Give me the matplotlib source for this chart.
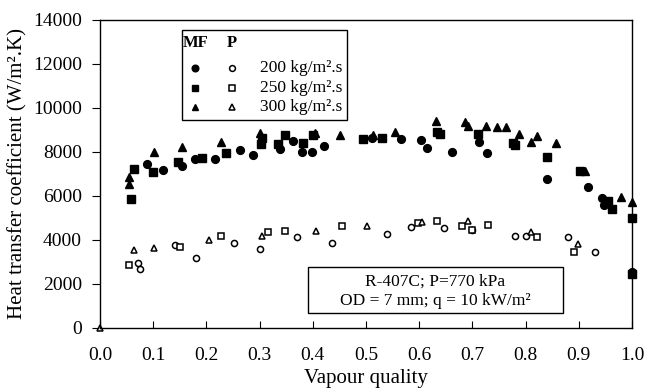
import matplotlib
matplotlib.use("Agg")
import matplotlib.pyplot as plt
from matplotlib.patches import Rectangle
from matplotlib.lines import Line2D

plt.rcParams['font.family'] = ['Liberation Serif', 'DejaVu Serif']
plt.rcParams['mathtext.fontset'] = 'stix'

# MF 200 kg/m2.s (filled circles)
mf200_x = [0.088, 0.118, 0.155, 0.179, 0.216, 0.263, 0.288, 0.338, 0.362, 0.379, 0.398, 0.421,
           0.511, 0.566, 0.604, 0.615, 0.662, 0.712, 0.728, 0.841, 0.917, 0.943, 0.948, 1.0]
mf200_y = [7430, 7180, 7350, 7650, 7690, 8080, 7850, 8120, 8500, 8000, 8000, 8260,
           8610, 8560, 8530, 8180, 7970, 8430, 7930, 6750, 6420, 5880, 5600, 2550]
# MF 250 kg/m2.s (filled squares)
mf250_x = [0.058, 0.064, 0.100, 0.147, 0.191, 0.236, 0.302, 0.304, 0.335, 0.348, 0.381, 0.401,
           0.494, 0.531, 0.634, 0.640, 0.711, 0.776, 0.780, 0.840, 0.902, 0.955, 0.962, 1.0, 1.0]
mf250_y = [5870, 7200, 7060, 7550, 7700, 7930, 8350, 8610, 8350, 8760, 8380, 8760,
           8560, 8610, 8910, 8800, 8800, 8380, 8300, 7770, 7140, 5750, 5400, 4980, 2450]
# MF 300 kg/m2.s (filled triangles)
mf300_x = [0.055, 0.055, 0.102, 0.155, 0.227, 0.301, 0.404, 0.452, 0.513, 0.555, 0.631, 0.687,
           0.691, 0.725, 0.747, 0.764, 0.788, 0.811, 0.822, 0.858, 0.912, 0.980, 1.0]
mf300_y = [6520, 6870, 7990, 8200, 8440, 8830, 8830, 8760, 8760, 8910, 9390, 9360,
           9180, 9180, 9130, 9130, 8800, 8430, 8720, 8380, 7140, 5950, 5710]
# P 200 kg/m2.s (open circles)
p200_x = [0.072, 0.076, 0.141, 0.180, 0.252, 0.300, 0.370, 0.437, 0.539, 0.585, 0.647, 0.700,
          0.780, 0.801, 0.880, 0.930]
p200_y = [2930, 2660, 3770, 3160, 3840, 3570, 4110, 3840, 4250, 4570, 4520, 4450,
          4170, 4170, 4110, 3430]
# P 250 kg/m2.s (open squares)
p250_x = [0.055, 0.150, 0.227, 0.316, 0.348, 0.454, 0.598, 0.633, 0.680, 0.700, 0.730, 0.821, 0.891]
p250_y = [2860, 3690, 4170, 4370, 4410, 4640, 4750, 4850, 4630, 4450, 4670, 4140, 3460]
# P 300 kg/m2.s (open triangles)
p300_x = [0.0, 0.064, 0.102, 0.204, 0.304, 0.406, 0.501, 0.605, 0.692, 0.810, 0.898]
p300_y = [0, 3560, 3650, 4000, 4170, 4410, 4640, 4820, 4850, 4370, 3830]

x_ticks = [0.0, 0.1, 0.2, 0.3, 0.4, 0.5, 0.6, 0.7, 0.8, 0.9, 1.0]
y_ticks = [0, 2000, 4000, 6000, 8000, 10000, 12000, 14000]

fig = plt.figure(figsize=(6.46, 3.9), dpi=100)
ax = fig.add_axes([100/646, 62/390, 532/646, 308.5/390])

fs = 5.6
ax.plot(mf200_x, mf200_y, 'o', ms=fs, color='black', clip_on=False)
ax.plot(mf250_x, mf250_y, 's', ms=fs - 0.3, color='black', clip_on=False)
ax.plot(mf300_x, mf300_y, '^', ms=fs + 0.6, color='black', clip_on=False)
os_ = 4.4
ax.plot(p200_x, p200_y, 'o', ms=os_, mfc='white', mec='black', mew=1.1, clip_on=False)
ax.plot(p250_x, p250_y, 's', ms=os_ - 0.4, mfc='white', mec='black', mew=1.1, clip_on=False)
ax.plot(p300_x, p300_y, '^', ms=os_ + 0.4, mfc='white', mec='black', mew=1.1, clip_on=False)

ax.set_xlim(0, 1.0)
ax.set_ylim(0, 14000)
ax.set_xticks(x_ticks)
ax.set_xticklabels([f"{t:.1f}" for t in x_ticks])
ax.set_yticks(y_ticks)
ax.set_yticklabels([str(t) for t in y_ticks])
ax.tick_params(axis='x', direction='in', length=5, pad=14, labelsize=14)
ax.tick_params(axis='y', direction='out', length=6, pad=7, labelsize=14)
for s in ax.spines.values():
    s.set_linewidth(1.0)

ax.set_xlabel("Vapour quality", fontsize=15, labelpad=3)
ax.set_ylabel("Heat transfer coefficient (W/m\u00b2.K)", fontsize=15, labelpad=4)

# legend box (manual)
T = ax.transAxes
ax.add_patch(Rectangle((0.154, 0.674), 0.31, 0.292, transform=T, fill=True,
                       facecolor='white', edgecolor='black', lw=1.0, zorder=5))
ax.text(0.179, 0.925, "MF", transform=T, ha='center', va='center', fontsize=12,
        fontweight='bold', zorder=6)
ax.text(0.248, 0.925, "P", transform=T, ha='center', va='center', fontsize=12,
        fontweight='bold', zorder=6)
rows = [(0.843, 'o', "200 kg/m\u00b2.s"), (0.778, 's', "250 kg/m\u00b2.s"),
        (0.716, '^', "300 kg/m\u00b2.s")]
for yy, m, lab in rows:
    ax.add_line(Line2D([0.179], [yy], marker=m, ms=4.8, color='black', transform=T, zorder=6))
    ax.add_line(Line2D([0.248], [yy], marker=m, ms=4.2, mfc='white', mec='black', mew=1.1,
                       color='black', transform=T, zorder=6))
    ax.text(0.301, yy, lab, transform=T, ha='left', va='center', fontsize=12.5, zorder=6)

# info box
ax.add_patch(Rectangle((0.391, 0.049), 0.479, 0.149, transform=T, facecolor='white',
                       edgecolor='black', lw=1.0, zorder=5))
ax.text(0.630, 0.150, "R-407C; P=770 kPa", transform=T, ha='center', va='center',
        fontsize=12.5, zorder=6)
ax.text(0.630, 0.087, "OD = 7 mm; q = 10 kW/m\u00b2", transform=T, ha='center', va='center',
        fontsize=12.5, zorder=6)

fig.savefig("out.png", dpi=100)
